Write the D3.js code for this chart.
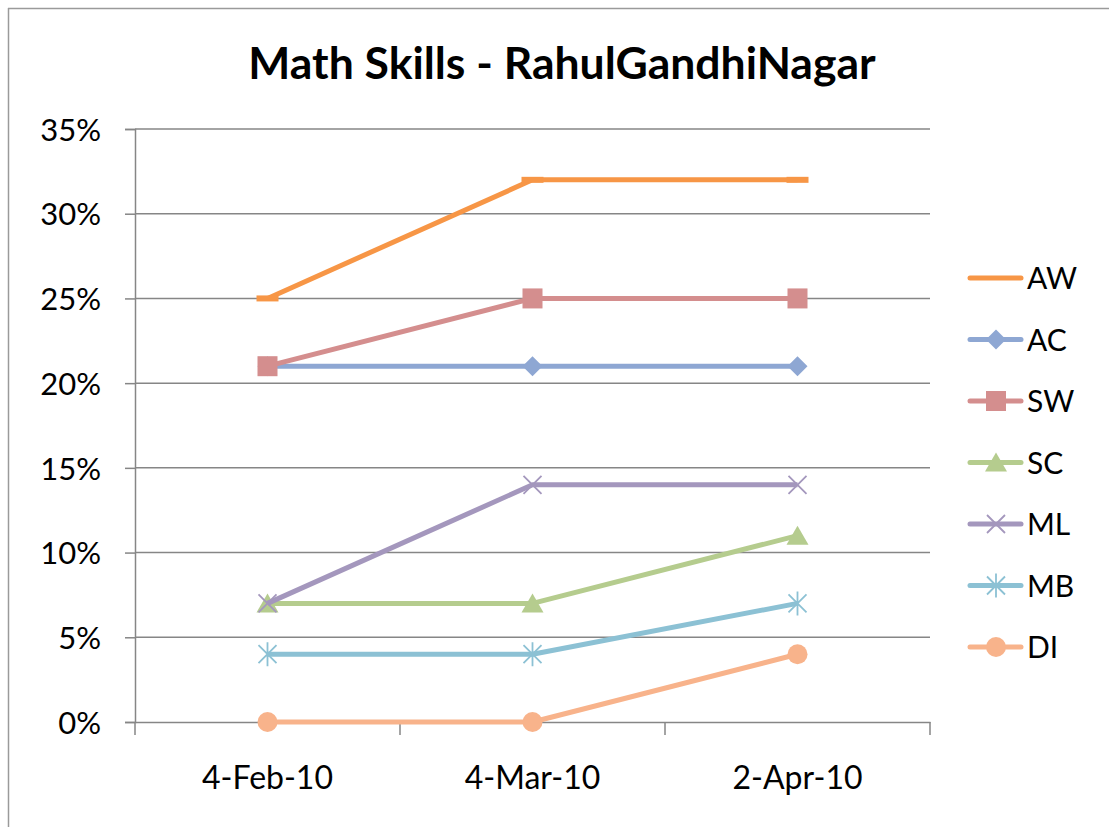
<!DOCTYPE html>
<html>
<head>
<meta charset="utf-8">
<script src="https://cdn.jsdelivr.net/npm/d3@7"></script>
<style>
body{margin:0;background:#fff;}
svg text{font-family:Lato,"Open Sans",sans-serif;fill:#000;}
</style>
</head>
<body>
<svg id="canvas" width="1109" height="827"></svg>
<script>
// data
let dates=["4-Feb-10","4-Mar-10","2-Apr-10"];
let names=["AW","AC","SW","SC","ML","MB","DI"];
let AW=[0.25,0.32,0.32];
let AC=[0.21,0.21,0.21];
let SW=[0.21,0.25,0.25];
let SC=[0.07,0.07,0.11];
let ML=[0.07,0.14,0.14];
let MB=[0.04,0.04,0.07];
let DI=[0,0,0.04];
let yTicks=[0,0.05,0.10,0.15,0.20,0.25,0.30,0.35];

let colors=["#F79646","#8EA7D3","#D48E8E","#B5CC8E","#A497BD","#8CC1D4","#F8B38B"];
let markers=["dash","diamond","square","triangle","x","star","circle"];
let series=[AW,AC,SW,SC,ML,MB,DI];

let canvas=d3.select("#canvas");
let grey="#868686";

// outer frame
canvas.append("line").attr("x1",8).attr("x2",1109).attr("y1",8.5).attr("y2",8.5).attr("stroke","#9a9a9a").attr("stroke-width",1.5);
canvas.append("line").attr("x1",8.5).attr("x2",8.5).attr("y1",8).attr("y2",827).attr("stroke","#9a9a9a").attr("stroke-width",1.5);

canvas.append("text").text("Math Skills - RahulGandhiNagar")
  .attr("x",562).attr("y",79).attr("text-anchor","middle")
  .style("font-size","44.5px").style("font-weight","bold");

let x=d3.scaleBand().domain(dates).range([135,930]);
let y=d3.scaleLinear().domain([0,0.35]).range([722,129]);

// gridlines
canvas.append("g").selectAll("line").data(yTicks.slice(1)).join("line")
  .attr("x1",135).attr("x2",930)
  .attr("y1",d=>y(d)).attr("y2",d=>y(d))
  .attr("stroke",grey).attr("stroke-width",1.5);

// y axis
let yAxis=canvas.append("g").attr("transform","translate(135,0)")
  .call(d3.axisLeft(y).tickValues(yTicks).tickFormat(d3.format(".0%")).tickSize(10).tickPadding(24));
yAxis.select(".domain").attr("stroke",grey).attr("stroke-width",1.5);
yAxis.selectAll(".tick line").attr("stroke",grey).attr("stroke-width",1.5);
yAxis.selectAll("text").style("font-size","31px").attr("dy","0.36em");

// x axis
let xAxis=canvas.append("g").attr("transform","translate(0,722)")
  .call(d3.axisBottom(x).tickSize(0).tickPadding(44));
xAxis.select(".domain").attr("stroke",grey).attr("stroke-width",1.5);
xAxis.selectAll("text").style("font-size","32px");
let bounds=[135].concat(dates.map(d=>x(d)+x.bandwidth()));
canvas.append("g").selectAll("line").data(bounds).join("line")
  .attr("x1",d=>d).attr("x2",d=>d).attr("y1",722).attr("y2",735)
  .attr("stroke",grey).attr("stroke-width",1.5);

let cx=d=>x(d)+x.bandwidth()/2;

function drawMarker(g,type,col){
  if(type=="dash"){
    g.append("rect").attr("x",-11).attr("y",-3).attr("width",22).attr("height",6).attr("fill",col);
  } else if(type=="diamond"){
    g.append("path").attr("d","M0,-10L10,0L0,10L-10,0Z").attr("fill",col);
  } else if(type=="square"){
    g.append("rect").attr("x",-10).attr("y",-10).attr("width",20).attr("height",20).attr("fill",col);
  } else if(type=="triangle"){
    g.append("path").attr("d","M0,-10L11,9L-11,9Z").attr("fill",col);
  } else if(type=="x"){
    g.append("path").attr("d","M-9,-9L9,9M9,-9L-9,9").attr("stroke",col).attr("stroke-width",1.8);
  } else if(type=="star"){
    g.append("path").attr("d","M-9,-9L9,9M9,-9L-9,9M0,-12L0,12").attr("stroke",col).attr("stroke-width",1.8);
  } else if(type=="circle"){
    g.append("circle").attr("r",10).attr("fill",col);
  }
}

let line=d3.line().x((d,i)=>cx(dates[i])).y(d=>y(d));

series.forEach((s,k)=>{
  let g=canvas.append("g");
  g.append("path").attr("d",line(s)).attr("fill","none")
    .attr("stroke",colors[k]).attr("stroke-width",5).attr("stroke-linejoin","round");
  s.forEach((v,i)=>{
    let m=g.append("g").attr("transform",`translate(${cx(dates[i])},${y(v)})`);
    drawMarker(m,markers[k],colors[k]);
  });
});

// legend
let leg=canvas.append("g");
names.forEach((n,k)=>{
  let ly=278+k*61.5;
  leg.append("line").attr("x1",970).attr("x2",1021).attr("y1",ly).attr("y2",ly)
    .attr("stroke",colors[k]).attr("stroke-width",5).attr("stroke-linecap","round");
  if(markers[k]!="dash"){
    let m=leg.append("g").attr("transform",`translate(996,${ly})`);
    drawMarker(m,markers[k],colors[k]);
  }
  leg.append("text").text(n).attr("x",1027).attr("y",ly+11).style("font-size","30px");
});
</script>
</body>
</html>
